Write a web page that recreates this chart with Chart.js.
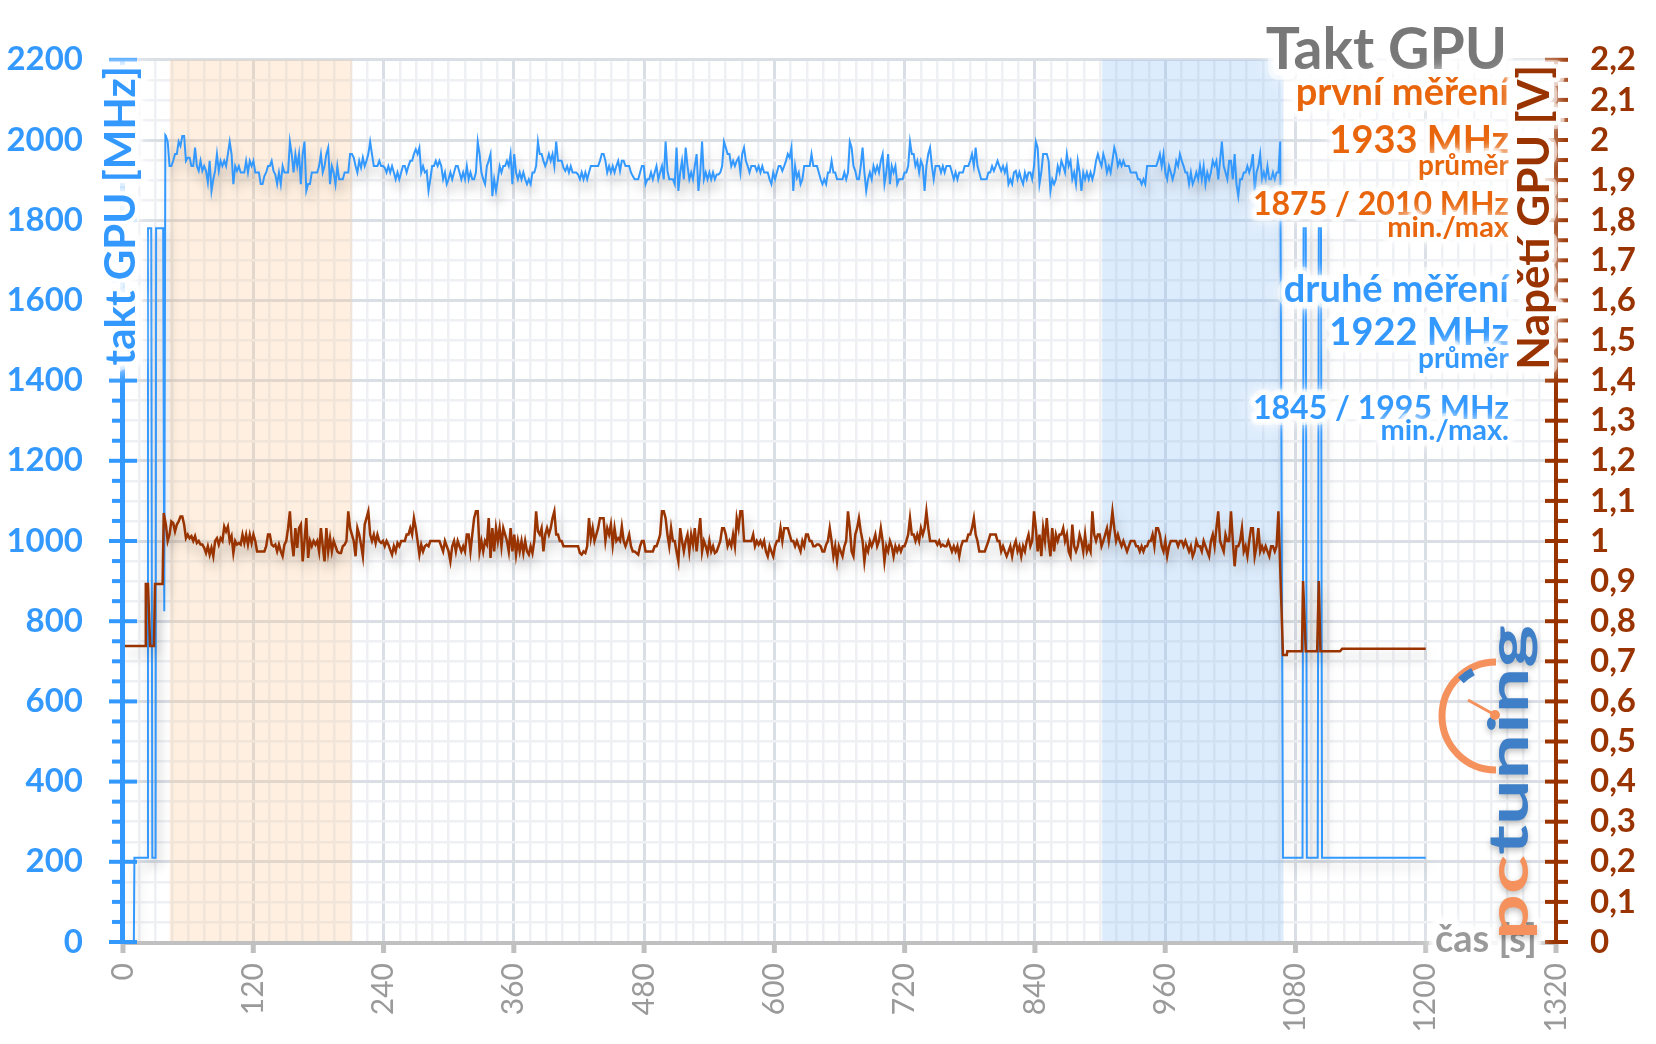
<!DOCTYPE html>
<html><head><meta charset="utf-8">
<script src="https://cdn.jsdelivr.net/npm/chart.js@4/dist/chart.umd.min.js"></script>
<style>html,body{margin:0;padding:0;background:#fff;overflow:hidden}</style>
</head><body>
<canvas id="c" width="1656" height="1044"></canvas>
<script>
// ---------------- DATA ----------------
// time axis [s]
const timeMin = 0, timeMax = 1320, timeMajorStep = 120, timeMinorStep = 15;
// clock axis [MHz]
const clockMin = 0, clockMax = 2200, clockMajorStep = 200, clockMinorStep = 50;
// voltage axis [V]
const voltMin = 0, voltMax = 2.2, voltMajorStep = 0.1, voltMinorStep = 0.05;

// shaded measurement windows [s]
const firstWindow = [43, 211];
const secondWindow = [902, 1069];

// GPU clock: idle / ramp-up part
const clockStartTimes = [0, 10, 10.5, 22.5, 23, 26, 27, 30, 30.5, 37, 38, 39];
const clockStartMHz   = [0, 0, 210, 210, 1780, 1780, 210, 210, 1780, 1780, 825, 2012];
// GPU clock under load, one reading every loadStepSec from loadStartSec
const loadStartSec = 39.5, loadStepSec = 1.68;
const clockLoadMHz = [
2010,1996,1935,1935,1948,1965,1965,1996,1985,2010,
2010,1948,1956,1956,1935,1935,1981,1935,1923,1948,
1923,1935,1923,1894,1948,1873,1902,1923,1965,1923,
1948,1935,1948,1935,1965,1996,1965,1890,1935,1923,
1935,1919,1919,1919,1948,1919,1948,1935,1948,1919,
1919,1919,1890,1890,1910,1919,1935,1935,1948,1923,
1914,1890,1919,1890,1935,1919,1919,1919,1996,1965,
1919,1965,1935,1965,1890,1965,1996,1873,1890,1890,
1919,1919,1919,1919,1935,1965,1919,1935,1965,1981,
1890,1935,1919,1890,1935,1902,1902,1902,1919,1919,
1919,1965,1965,1956,1935,1919,1948,1931,1956,1935,
1948,1965,1996,1965,1935,1935,1935,1948,1935,1935,
1931,1919,1935,1919,1935,1919,1902,1919,1902,1919,
1935,1935,1919,1935,1948,1948,1965,1977,1965,1981,
1919,1935,1919,1923,1873,1902,1935,1935,1948,1935,
1948,1935,1902,1919,1890,1902,1919,1902,1919,1935,
1935,1919,1902,1919,1902,1935,1902,1919,1902,1902,
1919,1996,1965,1919,1902,1890,1935,1948,1965,1860,
1902,1873,1902,1935,1919,1935,1935,1948,1935,1965,
1890,1965,1919,1902,1919,1902,1919,1902,1890,1902,
1890,1919,1919,1935,1996,1965,1965,1948,1935,1948,
1965,1948,1965,1935,1996,1948,1948,1948,1931,1923,
1935,1919,1935,1919,1919,1919,1914,1902,1919,1902,
1919,1902,1919,1935,1935,1935,1935,1935,1948,1965,
1965,1948,1919,1935,1919,1935,1919,1935,1948,1923,
1948,1948,1935,1935,1935,1919,1910,1902,1902,1902,
1919,1935,1935,1890,1902,1902,1919,1902,1919,1935,
1902,1919,1935,1902,1996,1923,1902,1902,1902,1890,
1981,1873,1919,1948,1902,1981,1935,1902,1919,1902,
1935,1965,1873,1919,1996,1902,1919,1902,1919,1902,
1919,1902,
1914,1914,1919,1935,1996,1981,1965,1965,1935,1948,
1935,1948,1956,1919,1965,1981,1948,1935,1919,1935,
1935,1935,1923,1935,1919,1935,1919,1919,1919,1902,
1890,1919,1902,1919,1935,1935,1923,1935,1948,1965,
1956,1981,1873,1935,1906,1919,1890,1902,1935,1935,
1935,1935,1965,1935,1935,1935,1919,1902,1890,1902,
1890,1919,1919,1948,1919,1919,1902,1902,1902,1902,
1919,1902,1919,1996,1981,1935,1923,1902,1902,1935,
1981,1919,1873,1902,1919,1902,1935,1919,1935,1919,
1948,1965,1890,1919,1965,1890,1935,1919,1935,1890,
1902,1902,1902,1919,1919,1935,1996,1965,1965,1935,
1948,1919,1948,1935,1873,1935,1965,1981,1935,1902,
1935,1935,1935,1919,1935,1919,1935,1935,1935,1919,
1902,1919,1902,1919,1919,1919,1935,1935,1935,1948,
1965,1935,1981,1935,1919,1902,1902,1902,1902,1919,
1919,1935,1923,1935,1948,1935,1923,1935,1919,1935,
1890,1902,1890,1919,1923,1902,1919,1902,1890,1919,
1902,1919,1919,1902,1935,1996,1981,1890,1919,1965,
1965,1965,1948,1873,1902,1890,1902,1935,1919,1948,
1935,1919,1965,1935,1948,1902,1919,1890,1948,1919,
1873,1919,1902,1919,1902,1919,1902,1919,1948,1965,
1948,1935,1965,1948,1919,1935,1919,1948,1981,1965,
1935,1948,1935,1948,1935,1935,1935,1919,1919,1919,
1919,1902,1902,1890,1902,1890,1935,1935,1935,1935,
1935,1935,1948,1965,1935,1965,1919,1902,1935,1919,
1902,1919,1948,1935,1965,1948,1935,1919,1919,1890,
1919,1890,1902,1919,1902,1935,1902,1935,1890,1919,
1902,1919,1948,1935,1948,1902,1948,1996,1935,1919,
1902,1948,1948,1902,1965,1890,1860,1902,1902,1919,
1919,1935,1919,1935,1965,1873,1919,1935,1965,1902,
1919,1902,1935,1902,1902,1919,1902,1919,1919,1996
];
// GPU clock: after load
const clockEndTimes = [1068.5, 1070, 1086.5, 1087.5, 1089.5, 1090.5, 1100.5, 1101.5, 1103.5, 1104.5, 1200];
const clockEndMHz   = [210, 210, 210, 1780, 1780, 210, 210, 1780, 1780, 210, 210];

// GPU voltage: idle / ramp-up part
const voltStartTimes = [0, 20.3, 21, 23, 25, 28.5, 29.5, 36.5, 37.5];
const voltStartV     = [0.738, 0.738, 0.893, 0.893, 0.738, 0.738, 0.893, 0.893, 1.07];
// GPU voltage under load, same sampling as clockLoadMHz
const voltLoadV = [
1.041,1.0,1.016,1.049,1.045,1.024,1.041,1.049,1.061,1.061,
1.041,1.007,1.016,1.007,1.012,1.0,1.012,0.995,1.0,0.991,
0.991,0.983,0.970,0.987,0.966,0.983,0.962,1.0,1.007,0.991,
1.007,1.0,1.036,1.024,1.036,1.0,1.012,0.970,1.0,0.991,
0.995,0.991,1.016,0.995,1.016,0.991,1.016,0.995,1.016,1.0,
0.974,0.974,0.974,0.974,0.974,0.987,1.016,1.016,0.991,0.987,
0.991,0.974,0.991,0.974,0.962,0.991,1.0,1.032,1.074,1.0,
0.962,1.032,0.983,1.032,1.041,0.949,1.0,1.057,0.958,1.0,
0.987,1.0,0.991,1.0,0.974,1.032,0.987,0.949,1.032,0.974,
1.007,0.974,1.0,0.987,0.974,0.970,0.970,0.987,0.991,1.0,
1.074,1.032,1.016,1.0,0.962,1.032,1.016,0.991,0.962,1.041,
1.057,1.074,1.016,1.0,1.016,0.995,1.016,1.0,0.995,1.0,
0.987,1.0,0.991,0.978,0.966,0.987,0.974,0.995,0.987,1.0,
1.0,1.0,1.016,1.016,1.032,1.016,1.057,1.032,1.0,0.966,
0.991,0.974,0.987,0.991,0.987,1.0,1.0,1.0,1.0,1.0,
1.0,0.987,0.974,1.0,0.987,0.974,0.949,0.987,1.0,0.974,
1.0,0.987,0.974,0.987,0.974,1.016,1.016,0.974,1.016,1.057,
1.074,1.074,0.974,1.0,0.974,1.0,0.991,1.057,0.958,1.032,
0.974,1.032,1.0,1.032,0.987,1.032,1.016,1.0,0.974,1.032,
0.974,1.016,0.966,1.0,0.974,1.0,0.970,1.0,0.974,0.966,
0.987,0.970,1.0,1.074,1.024,1.016,1.032,0.974,1.016,1.032,
1.016,1.032,1.057,1.074,1.016,1.016,1.0,1.0,0.987,0.987,
0.987,0.987,0.987,0.987,0.987,0.987,0.987,0.970,0.966,0.974,
0.970,0.987,1.057,1.007,1.032,1.0,1.016,1.032,1.057,1.057,
1.057,1.0,1.032,1.016,1.041,0.991,1.032,1.0,1.007,1.0,
1.036,1.0,0.987,1.0,1.016,0.987,0.974,0.974,0.970,0.966,
0.987,1.0,1.0,0.974,0.974,0.974,0.974,0.974,0.987,0.987,
1.0,1.016,1.074,1.074,1.057,1.016,0.987,1.032,1.0,1.0,
0.974,0.949,1.032,1.0,0.974,1.0,1.016,0.974,1.016,0.991,
1.032,0.974,1.016,1.057,0.974,1.0,0.987,0.970,1.0,0.974,
0.987,0.970,
0.974,0.987,1.0,1.032,1.032,1.016,0.987,1.0,0.987,1.016,
0.987,1.057,1.032,1.074,1.074,1.0,1.0,1.0,1.0,1.0,
1.016,0.987,1.0,0.991,1.0,0.987,1.0,0.974,0.962,0.987,
0.974,0.962,0.987,1.0,1.0,1.032,1.0,1.032,1.032,1.032,
1.016,1.0,1.0,0.987,1.0,0.987,0.974,1.0,0.987,1.016,
1.016,1.0,1.0,0.987,0.987,0.991,0.991,0.987,0.974,0.974,
0.991,1.0,1.032,1.0,0.962,0.987,0.949,0.987,0.974,0.962,
0.987,1.0,1.074,1.032,0.974,0.962,1.016,1.032,1.057,1.024,
1.0,0.949,0.987,0.974,1.0,0.987,1.0,1.016,0.987,1.0,
1.032,1.0,0.949,0.987,0.974,1.0,0.987,0.962,0.987,0.974,
0.987,0.974,0.987,0.987,1.0,1.016,1.057,1.016,1.016,1.0,
1.016,1.0,1.032,1.016,1.032,1.074,1.032,1.0,1.0,1.0,
1.0,0.991,1.0,0.987,0.991,0.987,0.987,1.0,0.987,0.974,
0.987,0.974,0.987,0.962,0.987,1.0,1.0,1.0,1.016,1.016,
1.032,1.057,1.016,1.0,0.974,0.974,0.974,0.974,0.987,1.0,
1.016,1.016,1.016,1.016,1.0,1.0,0.974,0.987,0.974,0.962,
0.974,0.987,0.962,0.987,1.0,0.974,0.987,0.962,0.987,0.974,
1.0,1.016,0.987,1.0,1.074,1.032,0.974,1.016,0.962,1.032,
1.0,1.057,1.0,0.962,1.032,0.974,1.016,1.0,1.016,1.016,
1.032,1.0,1.016,0.974,0.962,1.041,0.987,0.974,0.987,1.016,
1.0,0.974,1.016,0.974,0.987,0.974,1.074,1.016,1.0,1.016,
1.016,0.987,1.0,1.016,1.032,1.0,1.032,1.074,1.032,1.0,
1.016,1.0,0.987,1.0,0.987,0.974,0.987,1.0,1.0,1.0,
0.987,0.987,0.974,0.987,0.974,0.987,0.987,1.0,1.0,1.016,
0.987,1.032,1.032,1.016,0.987,0.974,1.0,0.962,0.987,1.0,
1.0,1.0,1.0,0.987,1.0,1.0,0.987,1.0,0.987,0.974,
0.987,0.962,0.974,1.0,0.987,0.987,0.974,1.0,0.987,0.974,
0.962,1.0,1.016,0.987,1.032,1.074,1.0,0.987,0.974,1.016,
1.0,1.0,1.074,1.0,0.937,0.987,0.987,1.0,1.032,0.974,
0.987,0.962,1.0,1.032,1.032,0.962,0.987,1.032,0.974,0.987,
0.974,0.987,0.974,0.962,0.987,0.987,0.974,0.987,1.074
];
// GPU voltage: after load
const voltEndTimes = [1068.5, 1072, 1072.5, 1086, 1087, 1089.5, 1100, 1101.5, 1103, 1121, 1123, 1200];
const voltEndV     = [0.716, 0.716, 0.725, 0.725, 0.90, 0.725, 0.725, 0.90, 0.725, 0.725, 0.731, 0.731];

// texts
const chartTitle = 'Takt GPU';
const firstRunLines  = ['první měření', '1933 MHz', 'průměr', '1875 / 2010 MHz', 'min./max'];
const secondRunLines = ['druhé měření', '1922 MHz', 'průměr', '1845 / 1995 MHz', 'min./max.'];
const clockAxisTitle = 'takt GPU [MHz]';
const voltAxisTitle = 'Napětí GPU [V]';
const timeAxisTitle = 'čas [s]';

// ---------------- BUILD ----------------
function pts(times, vals) { return times.map((t, i) => ({ x: t, y: vals[i] })); }
function loadPts(vals) { return vals.map((v, i) => ({ x: +(loadStartSec + i * loadStepSec).toFixed(2), y: v })); }
const clockData = [...pts(clockStartTimes, clockStartMHz), ...loadPts(clockLoadMHz), ...pts(clockEndTimes, clockEndMHz)];
const voltData  = [...pts(voltStartTimes, voltStartV), ...loadPts(voltLoadV), ...pts(voltEndTimes, voltEndV)];

const BLUE = '#3399ff', BROWN = '#993300', ORANGE = '#e8650c', GRAY = '#9a9a9a';
const FONT = 'Lato, "Open Sans", sans-serif';

function isMult(v, step) { const r = v / step; return Math.abs(r - Math.round(r)) < 1e-6; }

function glowText(ctx, text, x, y, size, color, align, rot, weight) {
  ctx.save();
  ctx.translate(x, y);
  if (rot) ctx.rotate(rot);
  ctx.font = (weight || 'bold') + ' ' + size + 'px ' + FONT;
  ctx.textAlign = align; ctx.textBaseline = 'alphabetic';
  ctx.lineJoin = 'round';
  ctx.shadowColor = 'rgba(255,255,255,1)';
  ctx.strokeStyle = 'rgba(255,255,255,0.55)';
  ctx.shadowBlur = 16; ctx.lineWidth = Math.max(12, size * 0.38);
  ctx.strokeText(text, 0, 0);
  ctx.strokeStyle = 'rgba(255,255,255,0.9)';
  ctx.shadowBlur = 8; ctx.lineWidth = Math.max(7, size * 0.2);
  ctx.strokeText(text, 0, 0);
  ctx.shadowBlur = 0;
  ctx.fillStyle = color; ctx.fillText(text, 0, 0);
  ctx.restore();
}

const decor = {
  id: 'decor',
  beforeDatasetsDraw(chart) {
    const { ctx, chartArea: a, scales: { x } } = chart;
    ctx.save();
    const bands = [[firstWindow, 'rgba(250,190,130,0.25)'], [secondWindow, 'rgba(120,180,245,0.25)']];
    bands.forEach(([w, c]) => {
      const x0 = x.getPixelForValue(w[0]), x1 = x.getPixelForValue(w[1]);
      ctx.fillStyle = c; ctx.fillRect(x0, a.top, x1 - x0, a.bottom - a.top);
    });
    ctx.restore();
  },
  beforeDatasetDraw(chart) {
    const ctx = chart.ctx;
    ctx.save();
    ctx.shadowColor = 'rgba(0,0,0,0.22)'; ctx.shadowBlur = 12; ctx.shadowOffsetX = 3; ctx.shadowOffsetY = 8;
  },
  afterDatasetDraw(chart) { chart.ctx.restore(); },
  afterDraw(chart) {
    const { ctx, chartArea: a, scales: { x, y, y1 } } = chart;
    ctx.save();
    ctx.fillStyle = '#c0c0c0';
    ctx.fillRect(a.left, a.bottom - 1, a.right - a.left, 4);
    x.ticks.forEach(t => { if (isMult(t.value, timeMajorStep)) { const p = x.getPixelForValue(t.value); ctx.fillRect(p - 2.5, a.bottom, 5, 11); } });
    ctx.fillStyle = BLUE;
    ctx.fillRect(a.left - 3, a.top - 1, 5, a.bottom - a.top + 3);
    y.ticks.forEach(t => {
      const p = y.getPixelForValue(t.value);
      if (isMult(t.value, clockMajorStep)) ctx.fillRect(a.left - 14, p - 2, 28, 4);
      else ctx.fillRect(a.left - 11, p - 2, 10, 4);
    });
    ctx.fillStyle = BROWN;
    ctx.fillRect(a.right - 2, a.top - 1, 4, a.bottom - a.top + 3);
    y1.ticks.forEach(t => {
      const p = y1.getPixelForValue(t.value);
      if (isMult(t.value, voltMajorStep)) ctx.fillRect(a.right - 11, p - 2, 23, 4);
      else ctx.fillRect(a.right, p - 2, 12, 4);
    });
    ctx.restore();

    glowText(ctx, chartTitle, 1507, 69, 57, '#787878', 'right');
    const sizes = [38, 38, 28, 32, 29];
    const firstY = [105, 153, 175, 215, 237];
    const secondY = [302, 345, 368, 419, 440];
    firstRunLines.forEach((s, i) => glowText(ctx, s, 1509, firstY[i], sizes[i], ORANGE, 'right'));
    secondRunLines.forEach((s, i) => glowText(ctx, s, 1509, secondY[i], sizes[i], BLUE, 'right'));
    glowText(ctx, clockAxisTitle, 135, 66, 42, BLUE, 'right', -Math.PI / 2);
    glowText(ctx, voltAxisTitle, 1549, 65, 44, BROWN, 'right', -Math.PI / 2);
    glowText(ctx, timeAxisTitle, 1435, 952, 38, GRAY, 'left');

    // logo
    ctx.save();
    ctx.translate(1528, 940);
    ctx.rotate(-Math.PI / 2);
    ctx.scale(1.47, 1);
    ctx.font = 'bold 55px ' + FONT;
    ctx.textAlign = 'left'; ctx.textBaseline = 'alphabetic';
    ctx.shadowColor = 'rgba(0,0,0,0.25)'; ctx.shadowBlur = 6; ctx.shadowOffsetY = 3;
    ctx.fillStyle = '#f4915c'; ctx.fillText('pc', 0, 0);
    const w = ctx.measureText('pc').width;
    ctx.fillStyle = '#3f7fc8'; ctx.fillText('tuning', w, 0);
    ctx.restore();
    ctx.save();
    ctx.strokeStyle = '#f4915c'; ctx.lineWidth = 7;
    ctx.beginPath(); ctx.arc(1496, 716, 54, -Math.PI / 2, Math.PI / 2, true); ctx.stroke();
    ctx.strokeStyle = '#3f7fc8'; ctx.lineWidth = 8;
    ctx.beginPath(); ctx.arc(1496, 716, 50, -2.35, -2.05); ctx.stroke();
    ctx.strokeStyle = '#f4915c'; ctx.lineWidth = 3;
    ctx.beginPath(); ctx.moveTo(1468, 700); ctx.lineTo(1495, 715); ctx.stroke();
    ctx.fillStyle = '#f4915c'; ctx.beginPath(); ctx.arc(1495, 715, 5, 0, Math.PI * 2); ctx.fill();
    ctx.restore();
  }
};

new Chart(document.getElementById('c'), {
  type: 'line',
  data: {
    datasets: [
      { label: 'Napětí', data: voltData, yAxisID: 'y1', borderColor: BROWN, borderWidth: 2.5, pointRadius: 0, tension: 0, fill: false },
      { label: 'Takt', data: clockData, yAxisID: 'y', borderColor: BLUE, borderWidth: 2, pointRadius: 0, tension: 0, fill: false }
    ]
  },
  options: {
    responsive: false, animation: false, devicePixelRatio: 1,
    layout: { padding: { top: 57, left: 0, right: 0, bottom: 0 } },
    plugins: { legend: { display: false }, tooltip: { enabled: false } },
    scales: {
      x: {
        type: 'linear', min: timeMin, max: timeMax,
        ticks: { stepSize: timeMinorStep, autoSkip: false, minRotation: 90, maxRotation: 90, padding: 21,
          color: GRAY, font: { family: FONT, size: 30 },
          callback: v => isMult(v, timeMajorStep) ? String(v) : '' },
        grid: { drawTicks: false, color: c => isMult(c.tick.value, timeMajorStep) ? '#dadfe6' : '#eef0f4', lineWidth: c => isMult(c.tick.value, timeMajorStep) ? 3 : 2.5 },
        border: { display: false },
        afterFit: s => { s.height = 102; }
      },
      y: {
        position: 'left', min: clockMin, max: clockMax,
        ticks: { stepSize: clockMinorStep, autoSkip: false, padding: 40, color: BLUE, font: { family: FONT, size: 33, weight: 'bold' },
          callback: v => isMult(v, clockMajorStep) ? String(v) : '' },
        grid: { drawTicks: false, color: c => isMult(c.tick.value, clockMajorStep) ? '#dadfe6' : '#eef0f4', lineWidth: c => isMult(c.tick.value, clockMajorStep) ? 3 : 2.5 },
        border: { display: false },
        afterFit: s => { s.width = 123; }
      },
      y1: {
        position: 'right', min: voltMin, max: voltMax,
        ticks: { stepSize: voltMinorStep, autoSkip: false, padding: 34, color: BROWN, font: { family: FONT, size: 33, weight: 'bold' },
          callback: v => isMult(v, voltMajorStep) ? String(Math.round(v * 10) / 10).replace('.', ',') : '' },
        grid: { drawOnChartArea: false, drawTicks: false },
        border: { display: false },
        afterFit: s => { s.width = 100; }
      }
    }
  },
  plugins: [decor]
});
</script>
</body></html>
